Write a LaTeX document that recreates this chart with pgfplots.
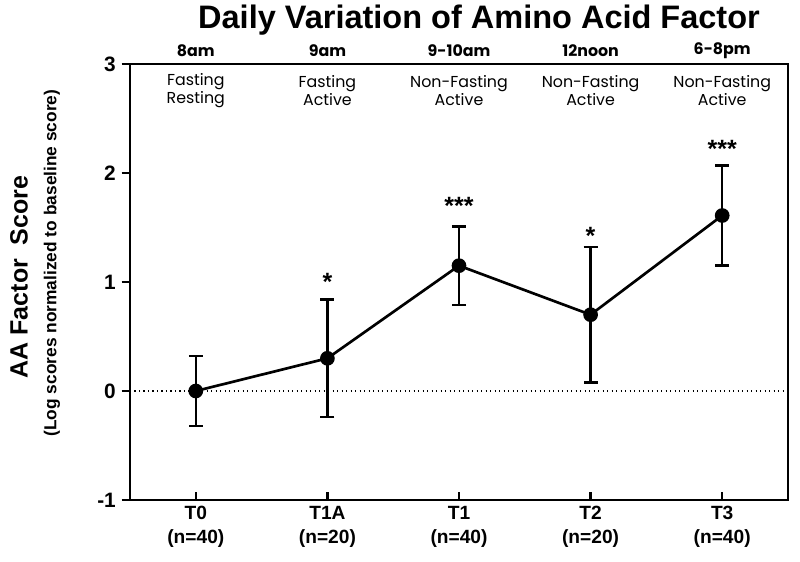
\documentclass[border=0pt]{standalone}
\usepackage{pgfplots}
\pgfplotsset{compat=1.18}
\usepackage{fontspec}
\setmainfont{Liberation Sans}
\newfontfamily\gothic{Poppins}
\pgfplotstableread{
x y e
0 0.00 0.32
1 0.30 0.54
2 1.15 0.36
3 0.70 0.62
4 1.61 0.46
}\aadata
\tikzset{toplab/.style={font=\gothic\bfseries\fontsize{9.5}{11}\selectfont, yshift=7.8pt},
         sublab/.style={font=\gothic\fontsize{9.5}{10.8}\selectfont, align=center, yshift=-16.2pt},
         star/.style={font=\fontsize{15}{15}\selectfont\bfseries}}
\begin{document}
\begin{tikzpicture}[x=0.6pt,y=0.6pt]
\path[use as bounding box] (-130,-61) rectangle (670,500);
\begin{axis}[
  at={(0,0)}, anchor=south west,
  scale only axis, width=394.8pt, height=261.6pt,
  xmin=-0.5, xmax=4.5, ymin=-1, ymax=3,
  xtick={0,1,2,3,4},
  xticklabels={T0\\(n=40),T1A\\(n=20),T1\\(n=40),T2\\(n=20),T3\\(n=40)},
  xticklabel style={align=center, font=\fontsize{11.5}{14.5}\selectfont\bfseries, yshift=0pt},
  ytick={-1,0,1,2,3},
  yticklabel style={font=\fontsize{12.5}{14}\selectfont\bfseries},
  /pgf/number format/assume math mode=true,
  xtick align=inside, ytick align=outside,
  major tick length=5pt,
  xtick pos=bottom, ytick pos=left,
  axis line style={line width=1.6pt},
  tick style={line width=1.4pt, black},
  clip=false,
]
\addplot[black, dotted, line width=0.7pt, forget plot] coordinates {(-0.5,0) (4.5,0)};
\addplot[black, line width=1.6pt, mark=*, mark size=3.6pt,
  error bars/.cd, y dir=both, y explicit,
  error bar style={line width=1.5pt},
  error mark options={rotate=90, line width=1.5pt, mark size=4.2pt}]
  table[x=x, y=y, y error=e] {\aadata};
\node[star] at (axis cs:1,1.00) {*};
\node[star] at (axis cs:2,1.70) {***};
\node[star] at (axis cs:3,1.42) {*};
\node[star] at (axis cs:4,2.22) {***};
\node[toplab] at (axis cs:0,3) {8am};
\node[toplab] at (axis cs:1,3) {9am};
\node[toplab] at (axis cs:2,3) {9-10am};
\node[toplab] at (axis cs:3,3) {12noon};
\node[toplab] at (axis cs:4,3) {6-8pm};
\node[sublab] at (axis cs:0,3) {Fasting\\Resting};
\node[sublab] at (axis cs:1,3) {Fasting\\Active};
\node[sublab] at (axis cs:2,3) {Non-Fasting\\Active};
\node[sublab] at (axis cs:3,3) {Non-Fasting\\Active};
\node[sublab] at (axis cs:4,3) {Non-Fasting\\Active};
\end{axis}
\node[font=\fontsize{19.5}{22}\selectfont\bfseries] at (349,480) {Daily Variation of Amino Acid Factor};
\node[rotate=90, font=\fontsize{15}{17}\selectfont\bfseries] at (-111,223) {AA Factor\ \ Score};
\node[rotate=90, font=\fontsize{10.4}{12}\selectfont\bfseries] at (-78,237) {(Log scores normalized to baseline score)};
\end{tikzpicture}
\end{document}
